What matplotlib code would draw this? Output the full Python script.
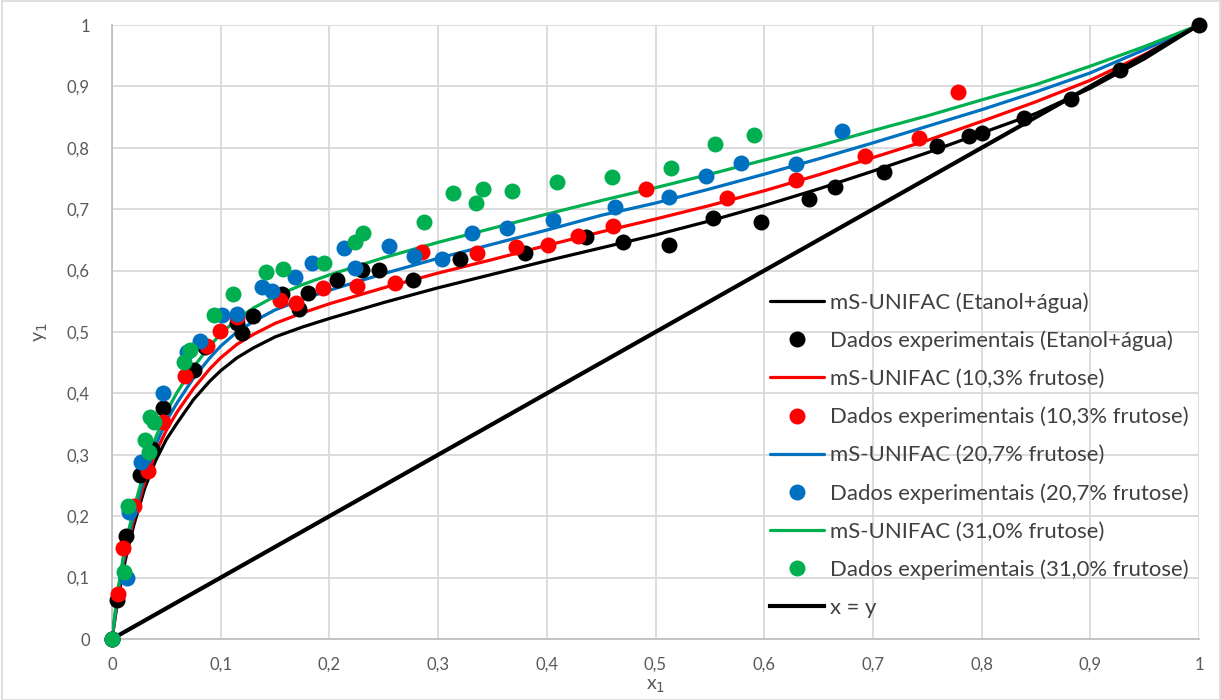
import matplotlib
matplotlib.use("Agg")
import matplotlib.pyplot as plt
from matplotlib.patches import Rectangle

plt.rcParams['font.family'] = ['Lato', 'DejaVu Sans']

# ---------------- data ----------------
# model curves (mS-UNIFAC)
curve_x = [0, 0.005, 0.01, 0.015, 0.02, 0.03, 0.04, 0.05, 0.06, 0.075, 0.09, 0.1,
           0.115, 0.13, 0.15, 0.175, 0.2, 0.25, 0.3, 0.35, 0.4, 0.45, 0.5, 0.55,
           0.6, 0.65, 0.7, 0.75, 0.8, 0.85, 0.9, 0.95, 1.0]
model_etanol = [0, 0.06, 0.11, 0.15, 0.185, 0.245, 0.29, 0.325, 0.352, 0.39, 0.42, 0.437,
                0.458, 0.474, 0.492, 0.508, 0.522, 0.548, 0.572, 0.594, 0.616, 0.637, 0.658,
                0.681, 0.706, 0.733, 0.762, 0.792, 0.824, 0.856, 0.897, 0.945, 1.0]
model_103 = [0, 0.065, 0.12, 0.16, 0.195, 0.255, 0.303, 0.34, 0.37, 0.408, 0.44, 0.458,
             0.48, 0.496, 0.514, 0.531, 0.546, 0.572, 0.596, 0.618, 0.641, 0.663, 0.684,
             0.706, 0.73, 0.756, 0.784, 0.812, 0.843, 0.875, 0.91, 0.952, 1.0]
model_207 = [0, 0.07, 0.125, 0.167, 0.203, 0.265, 0.315, 0.355, 0.385, 0.425, 0.458, 0.477,
             0.5, 0.517, 0.536, 0.553, 0.568, 0.595, 0.62, 0.643, 0.666, 0.69, 0.71,
             0.733, 0.757, 0.782, 0.808, 0.835, 0.862, 0.891, 0.922, 0.96, 1.0]
model_310 = [0, 0.075, 0.13, 0.174, 0.212, 0.275, 0.327, 0.37, 0.402, 0.443, 0.477, 0.497,
             0.521, 0.539, 0.558, 0.577, 0.593, 0.621, 0.646, 0.669, 0.692, 0.714, 0.735,
             0.757, 0.78, 0.803, 0.828, 0.852, 0.878, 0.903, 0.933, 0.965, 1.0]

# experimental data
exp_etanol_x = [0, 0.005, 0.013, 0.026, 0.037, 0.047, 0.075, 0.086, 0.115, 0.12, 0.13,
                0.156, 0.172, 0.18, 0.207, 0.23, 0.246, 0.277, 0.32, 0.38, 0.436, 0.47,
                0.512, 0.553, 0.597, 0.641, 0.665, 0.71, 0.759, 0.788, 0.80, 0.839,
                0.882, 0.927, 1.0]
exp_etanol_y = [0, 0.063, 0.168, 0.267, 0.309, 0.377, 0.438, 0.476, 0.515, 0.499, 0.526,
                0.562, 0.537, 0.563, 0.585, 0.601, 0.601, 0.584, 0.619, 0.628, 0.655, 0.647,
                0.641, 0.686, 0.679, 0.717, 0.736, 0.760, 0.803, 0.819, 0.824, 0.849,
                0.879, 0.927, 1.0]

exp_103_x = [0, 0.0055, 0.010, 0.020, 0.033, 0.047, 0.067, 0.087, 0.099, 0.115, 0.155,
             0.169, 0.194, 0.225, 0.260, 0.285, 0.336, 0.372, 0.401, 0.429, 0.461, 0.491,
             0.566, 0.629, 0.693, 0.742, 0.778]
exp_103_y = [0, 0.073, 0.148, 0.217, 0.274, 0.354, 0.428, 0.478, 0.502, 0.525, 0.552,
             0.547, 0.572, 0.575, 0.579, 0.631, 0.628, 0.639, 0.642, 0.656, 0.673, 0.733,
             0.718, 0.747, 0.786, 0.816, 0.891]

exp_207_x = [0, 0.0135, 0.016, 0.0265, 0.047, 0.069, 0.081, 0.101, 0.115, 0.138, 0.147,
             0.168, 0.184, 0.213, 0.224, 0.255, 0.278, 0.304, 0.331, 0.363, 0.406, 0.463,
             0.512, 0.546, 0.579, 0.629, 0.672]
exp_207_y = [0, 0.099, 0.207, 0.288, 0.40, 0.467, 0.486, 0.527, 0.530, 0.573, 0.567,
             0.590, 0.612, 0.637, 0.604, 0.640, 0.624, 0.619, 0.661, 0.669, 0.682, 0.704,
             0.720, 0.754, 0.775, 0.774, 0.827]

exp_310_x = [0, 0.011, 0.015, 0.030, 0.034, 0.035, 0.039, 0.066, 0.072, 0.094, 0.111,
             0.142, 0.157, 0.195, 0.224, 0.231, 0.287, 0.314, 0.335, 0.341, 0.368, 0.409,
             0.460, 0.514, 0.555, 0.591]
exp_310_y = [0, 0.109, 0.216, 0.324, 0.304, 0.362, 0.353, 0.451, 0.471, 0.528, 0.562,
             0.597, 0.602, 0.612, 0.647, 0.661, 0.679, 0.727, 0.710, 0.733, 0.730, 0.744,
             0.753, 0.767, 0.806, 0.821]

diag = [0, 1]

tick_vals = [0, 0.1, 0.2, 0.3, 0.4, 0.5, 0.6, 0.7, 0.8, 0.9, 1.0]
tick_labels = ["0", "0,1", "0,2", "0,3", "0,4", "0,5", "0,6", "0,7", "0,8", "0,9", "1"]

labels = ["mS-UNIFAC (Etanol+água)", "Dados experimentais (Etanol+água)",
          "mS-UNIFAC (10,3% frutose)", "Dados experimentais (10,3% frutose)",
          "mS-UNIFAC (20,7% frutose)", "Dados experimentais (20,7% frutose)",
          "mS-UNIFAC (31,0% frutose)", "Dados experimentais (31,0% frutose)",
          "x = y"]

# ---------------- plot ----------------
W, H = 1221, 700
fig = plt.figure(figsize=(W / 100, H / 100), dpi=100)
ax = fig.add_axes([112 / W, 1 - 639 / H, (1199 - 112) / W, (639 - 25) / H])

c_black = "#000000"
c_red = "#ff0000"
c_blue = "#0070c0"
c_green = "#00b050"
lw = 2.3
ms = 11.5

series = [
    (model_etanol, exp_etanol_x, exp_etanol_y, c_black),
    (model_103, exp_103_x, exp_103_y, c_red),
    (model_207, exp_207_x, exp_207_y, c_blue),
    (model_310, exp_310_x, exp_310_y, c_green),
]
handles = []
for model, ex, ey, col in series:
    l, = ax.plot(curve_x, model, color=col, lw=lw, solid_joinstyle='round',
                 solid_capstyle='round', zorder=3)
    p, = ax.plot(ex, ey, linestyle='none', marker='o', markersize=ms,
                 color=col, markeredgewidth=0, clip_on=False, zorder=4)
    handles += [l, p]
d, = ax.plot(diag, diag, color="black", lw=3.0, zorder=3)
handles.append(d)

ax.set_xlim(0, 1)
ax.set_ylim(0, 1)
ax.set_xticks(tick_vals)
ax.set_xticklabels(tick_labels)
ax.set_yticks(tick_vals)
ax.set_yticklabels(tick_labels)
ax.grid(True, color="#d9d9d9", lw=1.3, zorder=0)
ax.set_axisbelow(True)
ax.tick_params(length=0, labelsize=12, labelcolor="#595959")
ax.tick_params(axis='x', pad=13)
ax.tick_params(axis='y', pad=16)
for s in ["top", "right"]:
    ax.spines[s].set_visible(False)
for s in ["left", "bottom"]:
    ax.spines[s].set_color("#bfbfbf")
    ax.spines[s].set_linewidth(1.3)

ax.set_xlabel("x$_1$", fontsize=14, color="#595959", labelpad=3)
ax.set_ylabel("y$_1$", fontsize=14, color="#595959", labelpad=12)

leg = ax.legend(handles, labels, loc="upper left",
                bbox_to_anchor=(770 / W, 1 - 292 / H), bbox_transform=fig.transFigure,
                frameon=False, fontsize=15.9, handlelength=2.45, handletextpad=0.25,
                labelspacing=0.81, borderaxespad=0, borderpad=0, numpoints=1)
for t in leg.get_texts():
    t.set_color("#404040")

fig.patches.append(Rectangle((1.5 / W, 0), 1 - 3 / W, 1 - 1 / H, transform=fig.transFigure,
                             fill=False, edgecolor="#d9d9d9", lw=1.2))

fig.savefig("out.png", dpi=100)
